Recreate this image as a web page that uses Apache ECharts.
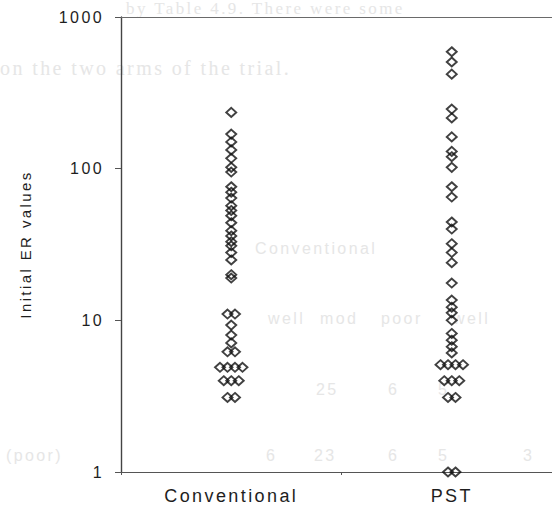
<!DOCTYPE html>
<html>
<head>
<meta charset="utf-8">
<script src="https://cdn.jsdelivr.net/npm/echarts@6/dist/echarts.min.js"></script>
<style>
  html, body { margin: 0; padding: 0; background: #ffffff; }
  #chart { width: 552px; height: 519px; }
  /* wide tracking on all chart lettering */
  #chart text { letter-spacing: 2.4px; }
</style>
</head>
<body>
<div id="chart"></div>
<script>
// Groups on the horizontal axis
const categories = ['Conventional', 'PST'];

// Initial ER value of each patient, per arm (equal values sit side by side)
const conventionalValues = [
  235, 169, 150, 133, 117, 102, 95,
  76, 70, 64, 57, 53, 49, 44, 39, 36, 33, 31, 28, 25,
  20, 19,
  11, 11, 9.3, 8, 7.1, 6.2, 6.2,
  4.9, 4.9, 4.9, 4.9,
  4, 4, 4,
  3.1, 3.1
];
const pstValues = [
  590, 505, 420,
  247, 216, 162, 130, 120, 102,
  76, 65, 44.5, 40, 32, 28, 24,
  17.6, 13.6, 12.2, 11.2, 10, 8.2, 7.4, 6.7, 6.1,
  5.1, 5.1, 5.1, 5.1,
  4, 4, 4,
  3.1, 3.1,
  1, 1
];

// Log axis range and its labels
const yMin = 1;
const yMax = 1000;
const yTickLabels = ['1', '10', '100', '1000'];
const yAxisTitle = 'Initial ER values';

// Spread repeated values horizontally, like a dot plot
const DOT_STEP = 7.5;
function dotItems(values, catIndex) {
  const counts = {};
  values.forEach(v => { counts[v] = (counts[v] || 0) + 1; });
  const seen = {};
  return values.map(v => {
    const n = counts[v];
    const i = seen[v] = (seen[v] === undefined ? 0 : seen[v] + 1);
    return { value: [catIndex, v], symbolOffset: [(i - (n - 1) / 2) * DOT_STEP, 0] };
  });
}

const markerStyle = {
  color: 'rgba(0,0,0,0)',
  borderColor: '#111111',
  borderWidth: 1.9
};

// Faint lettering of the page underneath the figure
const ghost = '#e6e6e6';
function ghostText(text, x, y, font) {
  return {
    type: 'text', x: x, y: y, z: 0, silent: true,
    style: { text: text, fill: ghost, font: font, verticalAlign: 'middle' }
  };
}
const serif = '20px "Liberation Serif", serif';
const serifSmall = '17px "Liberation Serif", serif';
const sans = '16px "Liberation Sans", Arial, sans-serif';

const chart = echarts.init(document.getElementById('chart'), null, { renderer: 'svg' });
chart.setOption({
  backgroundColor: '#ffffff',
  animation: false,
  graphic: [
    ghostText('by Table 4.9. There were some', 126, 8, serifSmall),
    ghostText('on the two arms of the trial.', 0, 68, serif),
    ghostText('Conventional', 255, 248, sans),
    ghostText('well', 268, 318, sans),
    ghostText('mod', 320, 318, sans),
    ghostText('poor', 381, 318, sans),
    ghostText('well', 453, 318, sans),
    ghostText('25', 316, 389, sans),
    ghostText('6', 388, 389, sans),
    ghostText('5', 438, 389, sans),
    ghostText('(poor)', 6, 455, sans),
    ghostText('6', 266, 455, sans),
    ghostText('23', 314, 455, sans),
    ghostText('6', 388, 455, sans),
    ghostText('5', 438, 455, sans),
    ghostText('3', 523, 455, sans)
  ],
  grid: {
    left: 121, top: 17, width: 441, height: 455,
    containLabel: false,
    outerBoundsMode: 'none'
  },
  xAxis: [
    {
      type: 'category',
      data: categories,
      boundaryGap: true,
      position: 'bottom',
      axisLine: { show: true, lineStyle: { color: '#555555', width: 1.2 } },
      axisTick: { show: true, inside: false, length: 3, lineStyle: { color: '#555555' } },
      axisLabel: {
        margin: 15,
        color: '#1e1e1e',
        fontSize: 18,
        fontFamily: '"Liberation Sans", Arial, sans-serif'
      },
      splitLine: { show: false }
    },
    {
      type: 'category',
      data: categories,
      position: 'top',
      axisLine: { show: true, lineStyle: { color: '#6a6a6a', width: 1.2 } },
      axisTick: { show: false },
      axisLabel: { show: false },
      splitLine: { show: false }
    }
  ],
  yAxis: {
    type: 'log',
    logBase: 10,
    min: yMin,
    max: yMax,
    name: yAxisTitle,
    nameLocation: 'middle',
    nameGap: 88,
    nameRotate: 90,
    nameTextStyle: {
      color: '#1e1e1e',
      fontSize: 15,
      fontFamily: '"Liberation Sans", Arial, sans-serif'
    },
    axisLine: { show: true, lineStyle: { color: '#444444', width: 1.4 } },
    axisTick: { show: true, inside: false, length: 6, lineStyle: { color: '#555555' } },
    minorTick: { show: false },
    axisLabel: {
      margin: 17,
      color: '#1e1e1e',
      fontSize: 16,
      fontFamily: '"Liberation Sans", Arial, sans-serif',
      formatter: function (v) {
        const k = Math.round(Math.log10(v));
        return yTickLabels[k] !== undefined ? yTickLabels[k] : '';
      }
    },
    splitLine: { show: false }
  },
  series: [
    {
      name: categories[0],
      type: 'scatter',
      symbol: 'diamond',
      symbolSize: [10, 9],
      itemStyle: markerStyle,
      data: dotItems(conventionalValues, 0),
      z: 3
    },
    {
      name: categories[1],
      type: 'scatter',
      symbol: 'diamond',
      symbolSize: [10, 9],
      itemStyle: markerStyle,
      data: dotItems(pstValues, 1),
      z: 3
    }
  ]
});
</script>
</body>
</html>
